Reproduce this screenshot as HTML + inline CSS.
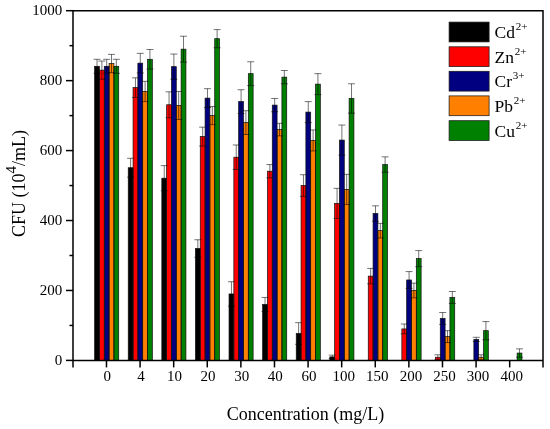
<!DOCTYPE html>
<html><head><meta charset="utf-8"><style>
html,body{margin:0;padding:0;background:#fff;}
body{width:550px;height:429px;overflow:hidden;}
svg{display:block;will-change:transform;}
text{font-family:"Liberation Serif",serif;fill:#000;}
</style></head><body>
<svg width="550" height="429" viewBox="0 0 550 429">
<rect width="550" height="429" fill="#fff"/>
<g><rect x="94.63" y="66.30" width="4.82" height="294.10" fill="#000000"/><rect x="99.45" y="70.15" width="4.82" height="290.25" fill="#ff0000"/><rect x="104.27" y="66.30" width="4.82" height="294.10" fill="#000080"/><rect x="109.09" y="63.50" width="4.82" height="296.90" fill="#ff8000"/><rect x="113.91" y="66.30" width="4.82" height="294.10" fill="#008000"/><rect x="128.23" y="167.72" width="4.82" height="192.68" fill="#000000"/><rect x="133.05" y="87.63" width="4.82" height="272.77" fill="#ff0000"/><rect x="137.87" y="63.15" width="4.82" height="297.25" fill="#000080"/><rect x="142.69" y="91.48" width="4.82" height="268.92" fill="#ff8000"/><rect x="147.51" y="59.31" width="4.82" height="301.09" fill="#008000"/><rect x="161.83" y="178.21" width="4.82" height="182.19" fill="#000000"/><rect x="166.65" y="104.77" width="4.82" height="255.63" fill="#ff0000"/><rect x="171.47" y="66.65" width="4.82" height="293.75" fill="#000080"/><rect x="176.29" y="105.47" width="4.82" height="254.93" fill="#ff8000"/><rect x="181.11" y="49.17" width="4.82" height="311.23" fill="#008000"/><rect x="195.43" y="248.50" width="4.82" height="111.90" fill="#000000"/><rect x="200.25" y="136.59" width="4.82" height="223.81" fill="#ff0000"/><rect x="205.07" y="98.12" width="4.82" height="262.28" fill="#000080"/><rect x="209.89" y="115.61" width="4.82" height="244.79" fill="#ff8000"/><rect x="214.71" y="38.68" width="4.82" height="321.72" fill="#008000"/><rect x="229.03" y="293.96" width="4.82" height="66.44" fill="#000000"/><rect x="233.85" y="157.22" width="4.82" height="203.18" fill="#ff0000"/><rect x="238.67" y="101.62" width="4.82" height="258.78" fill="#000080"/><rect x="243.49" y="122.60" width="4.82" height="237.80" fill="#ff8000"/><rect x="248.31" y="73.65" width="4.82" height="286.75" fill="#008000"/><rect x="262.63" y="304.45" width="4.82" height="55.95" fill="#000000"/><rect x="267.45" y="171.21" width="4.82" height="189.19" fill="#ff0000"/><rect x="272.27" y="105.12" width="4.82" height="255.28" fill="#000080"/><rect x="277.09" y="129.60" width="4.82" height="230.80" fill="#ff8000"/><rect x="281.91" y="77.14" width="4.82" height="283.26" fill="#008000"/><rect x="296.23" y="333.47" width="4.82" height="26.93" fill="#000000"/><rect x="301.05" y="185.55" width="4.82" height="174.85" fill="#ff0000"/><rect x="305.87" y="112.11" width="4.82" height="248.29" fill="#000080"/><rect x="310.69" y="140.44" width="4.82" height="219.96" fill="#ff8000"/><rect x="315.51" y="84.14" width="4.82" height="276.26" fill="#008000"/><rect x="329.83" y="356.90" width="4.82" height="3.50" fill="#000000"/><rect x="334.65" y="203.38" width="4.82" height="157.02" fill="#ff0000"/><rect x="339.47" y="140.09" width="4.82" height="220.31" fill="#000080"/><rect x="344.29" y="189.40" width="4.82" height="171.00" fill="#ff8000"/><rect x="349.11" y="98.47" width="4.82" height="261.93" fill="#008000"/><rect x="368.25" y="276.12" width="4.82" height="84.28" fill="#ff0000"/><rect x="373.07" y="213.53" width="4.82" height="146.87" fill="#000080"/><rect x="377.89" y="230.66" width="4.82" height="129.74" fill="#ff8000"/><rect x="382.71" y="164.57" width="4.82" height="195.83" fill="#008000"/><rect x="401.85" y="328.93" width="4.82" height="31.47" fill="#ff0000"/><rect x="406.67" y="279.97" width="4.82" height="80.43" fill="#000080"/><rect x="411.49" y="290.46" width="4.82" height="69.94" fill="#ff8000"/><rect x="416.31" y="258.64" width="4.82" height="101.76" fill="#008000"/><rect x="435.45" y="357.25" width="4.82" height="3.15" fill="#ff0000"/><rect x="440.27" y="318.44" width="4.82" height="41.96" fill="#000080"/><rect x="445.09" y="336.62" width="4.82" height="23.78" fill="#ff8000"/><rect x="449.91" y="297.45" width="4.82" height="62.95" fill="#008000"/><rect x="473.87" y="339.42" width="4.82" height="20.98" fill="#000080"/><rect x="478.69" y="357.25" width="4.82" height="3.15" fill="#ff8000"/><rect x="483.51" y="330.68" width="4.82" height="29.72" fill="#008000"/><rect x="517.11" y="353.06" width="4.82" height="7.34" fill="#008000"/></g>
<g fill="none" stroke="#111" stroke-width="0.7"><rect x="94.63" y="66.30" width="4.82" height="294.10"/><rect x="99.45" y="70.15" width="4.82" height="290.25"/><rect x="104.27" y="66.30" width="4.82" height="294.10"/><rect x="109.09" y="63.50" width="4.82" height="296.90"/><rect x="113.91" y="66.30" width="4.82" height="294.10"/><rect x="128.23" y="167.72" width="4.82" height="192.68"/><rect x="133.05" y="87.63" width="4.82" height="272.77"/><rect x="137.87" y="63.15" width="4.82" height="297.25"/><rect x="142.69" y="91.48" width="4.82" height="268.92"/><rect x="147.51" y="59.31" width="4.82" height="301.09"/><rect x="161.83" y="178.21" width="4.82" height="182.19"/><rect x="166.65" y="104.77" width="4.82" height="255.63"/><rect x="171.47" y="66.65" width="4.82" height="293.75"/><rect x="176.29" y="105.47" width="4.82" height="254.93"/><rect x="181.11" y="49.17" width="4.82" height="311.23"/><rect x="195.43" y="248.50" width="4.82" height="111.90"/><rect x="200.25" y="136.59" width="4.82" height="223.81"/><rect x="205.07" y="98.12" width="4.82" height="262.28"/><rect x="209.89" y="115.61" width="4.82" height="244.79"/><rect x="214.71" y="38.68" width="4.82" height="321.72"/><rect x="229.03" y="293.96" width="4.82" height="66.44"/><rect x="233.85" y="157.22" width="4.82" height="203.18"/><rect x="238.67" y="101.62" width="4.82" height="258.78"/><rect x="243.49" y="122.60" width="4.82" height="237.80"/><rect x="248.31" y="73.65" width="4.82" height="286.75"/><rect x="262.63" y="304.45" width="4.82" height="55.95"/><rect x="267.45" y="171.21" width="4.82" height="189.19"/><rect x="272.27" y="105.12" width="4.82" height="255.28"/><rect x="277.09" y="129.60" width="4.82" height="230.80"/><rect x="281.91" y="77.14" width="4.82" height="283.26"/><rect x="296.23" y="333.47" width="4.82" height="26.93"/><rect x="301.05" y="185.55" width="4.82" height="174.85"/><rect x="305.87" y="112.11" width="4.82" height="248.29"/><rect x="310.69" y="140.44" width="4.82" height="219.96"/><rect x="315.51" y="84.14" width="4.82" height="276.26"/><rect x="329.83" y="356.90" width="4.82" height="3.50"/><rect x="334.65" y="203.38" width="4.82" height="157.02"/><rect x="339.47" y="140.09" width="4.82" height="220.31"/><rect x="344.29" y="189.40" width="4.82" height="171.00"/><rect x="349.11" y="98.47" width="4.82" height="261.93"/><rect x="368.25" y="276.12" width="4.82" height="84.28"/><rect x="373.07" y="213.53" width="4.82" height="146.87"/><rect x="377.89" y="230.66" width="4.82" height="129.74"/><rect x="382.71" y="164.57" width="4.82" height="195.83"/><rect x="401.85" y="328.93" width="4.82" height="31.47"/><rect x="406.67" y="279.97" width="4.82" height="80.43"/><rect x="411.49" y="290.46" width="4.82" height="69.94"/><rect x="416.31" y="258.64" width="4.82" height="101.76"/><rect x="435.45" y="357.25" width="4.82" height="3.15"/><rect x="440.27" y="318.44" width="4.82" height="41.96"/><rect x="445.09" y="336.62" width="4.82" height="23.78"/><rect x="449.91" y="297.45" width="4.82" height="62.95"/><rect x="473.87" y="339.42" width="4.82" height="20.98"/><rect x="478.69" y="357.25" width="4.82" height="3.15"/><rect x="483.51" y="330.68" width="4.82" height="29.72"/><rect x="517.11" y="353.06" width="4.82" height="7.34"/></g>
<g fill="none" stroke="#000" stroke-width="0.55"><path d="M97.04 59.31V73.30M93.54 59.31H100.54M93.54 73.30H100.54"/><path d="M101.86 61.06V79.24M98.36 61.06H105.36M98.36 79.24H105.36"/><path d="M106.68 59.31V73.30M103.18 59.31H110.18M103.18 73.30H110.18"/><path d="M111.50 54.41V72.60M108.00 54.41H115.00M108.00 72.60H115.00"/><path d="M116.32 59.31V73.30M112.82 59.31H119.82M112.82 73.30H119.82"/><path d="M130.64 158.27V177.16M127.14 158.27H134.14M127.14 177.16H134.14"/><path d="M135.46 77.84V97.43M131.96 77.84H138.96M131.96 97.43H138.96"/><path d="M140.28 53.36V72.95M136.78 53.36H143.78M136.78 72.95H143.78"/><path d="M145.10 81.34V101.62M141.60 81.34H148.60M141.60 101.62H148.60"/><path d="M149.92 49.52V69.10M146.42 49.52H153.42M146.42 69.10H153.42"/><path d="M164.24 165.62V190.80M160.74 165.62H167.74M160.74 190.80H167.74"/><path d="M169.06 91.83V117.71M165.56 91.83H172.56M165.56 117.71H172.56"/><path d="M173.88 54.06V79.24M170.38 54.06H177.38M170.38 79.24H177.38"/><path d="M178.70 91.48V119.46M175.20 91.48H182.20M175.20 119.46H182.20"/><path d="M183.52 36.23V62.11M180.02 36.23H187.02M180.02 62.11H187.02"/><path d="M197.84 239.75V257.24M194.34 239.75H201.34M194.34 257.24H201.34"/><path d="M202.66 127.15V146.03M199.16 127.15H206.16M199.16 146.03H206.16"/><path d="M207.48 88.68V107.57M203.98 88.68H210.98M203.98 107.57H210.98"/><path d="M212.30 106.52V124.70M208.80 106.52H215.80M208.80 124.70H215.80"/><path d="M217.12 29.58V47.77M213.62 29.58H220.62M213.62 47.77H220.62"/><path d="M231.44 281.72V306.20M227.94 281.72H234.94M227.94 306.20H234.94"/><path d="M236.26 144.98V169.46M232.76 144.98H239.76M232.76 169.46H239.76"/><path d="M241.08 89.73V113.51M237.58 89.73H244.58M237.58 113.51H244.58"/><path d="M245.90 110.71V134.49M242.40 110.71H249.40M242.40 134.49H249.40"/><path d="M250.72 61.76V85.54M247.22 61.76H254.22M247.22 85.54H254.22"/><path d="M265.04 297.45V311.44M261.54 297.45H268.54M261.54 311.44H268.54"/><path d="M269.86 164.57V177.86M266.36 164.57H273.36M266.36 177.86H273.36"/><path d="M274.68 98.47V111.76M271.18 98.47H278.18M271.18 111.76H278.18"/><path d="M279.50 123.30V135.89M276.00 123.30H283.00M276.00 135.89H283.00"/><path d="M284.32 70.50V83.79M280.82 70.50H287.82M280.82 83.79H287.82"/><path d="M298.64 322.63V344.31M295.14 322.63H302.14M295.14 344.31H302.14"/><path d="M303.46 174.71V196.39M299.96 174.71H306.96M299.96 196.39H306.96"/><path d="M308.28 101.62V122.60M304.78 101.62H311.78M304.78 122.60H311.78"/><path d="M313.10 129.95V150.93M309.60 129.95H316.60M309.60 150.93H316.60"/><path d="M317.92 73.65V94.63M314.42 73.65H321.42M314.42 94.63H321.42"/><path d="M332.24 355.15V358.65M328.74 355.15H335.74M328.74 358.65H335.74"/><path d="M337.06 188.35V218.42M333.56 188.35H340.56M333.56 218.42H340.56"/><path d="M341.88 125.05V155.13M338.38 125.05H345.38M338.38 155.13H345.38"/><path d="M346.70 174.36V204.43M343.20 174.36H350.20M343.20 204.43H350.20"/><path d="M351.52 83.79V113.16M348.02 83.79H355.02M348.02 113.16H355.02"/><path d="M370.66 268.43V283.82M367.16 268.43H374.16M367.16 283.82H374.16"/><path d="M375.48 205.83V221.22M371.98 205.83H378.98M371.98 221.22H378.98"/><path d="M380.30 223.32V238.00M376.80 223.32H383.80M376.80 238.00H383.80"/><path d="M385.12 156.87V172.26M381.62 156.87H388.62M381.62 172.26H388.62"/><path d="M404.26 324.03V333.82M400.76 324.03H407.76M400.76 333.82H407.76"/><path d="M409.08 271.58V288.36M405.58 271.58H412.58M405.58 288.36H412.58"/><path d="M413.90 283.12V297.80M410.40 283.12H417.40M410.40 297.80H417.40"/><path d="M418.72 250.59V266.68M415.22 250.59H422.22M415.22 266.68H422.22"/><path d="M437.86 354.80V359.70M434.36 354.80H441.36M434.36 359.70H441.36"/><path d="M442.68 312.49V324.38M439.18 312.49H446.18M439.18 324.38H446.18"/><path d="M447.50 330.68V342.57M444.00 330.68H451.00M444.00 342.57H451.00"/><path d="M452.32 291.51V303.40M448.82 291.51H455.82M448.82 303.40H455.82"/><path d="M476.28 337.32V341.52M472.78 337.32H479.78M472.78 341.52H479.78"/><path d="M481.10 354.80V359.70M477.60 354.80H484.60M477.60 359.70H484.60"/><path d="M485.92 321.58V339.77M482.42 321.58H489.42M482.42 339.77H489.42"/><path d="M519.52 348.86V357.25M516.02 348.86H523.02M516.02 357.25H523.02"/></g>
<g fill="none" stroke="#000" stroke-width="1.5"><path d="M73.0 10.7H543.0V367.4M73.0 10.7V367.4M73.0 360.4H543.0"/><path d="M66.0 360.40H73.0"/><path d="M69.5 325.43H73.0"/><path d="M66.0 290.46H73.0"/><path d="M69.5 255.49H73.0"/><path d="M66.0 220.52H73.0"/><path d="M69.5 185.55H73.0"/><path d="M66.0 150.58H73.0"/><path d="M69.5 115.61H73.0"/><path d="M66.0 80.64H73.0"/><path d="M69.5 45.67H73.0"/><path d="M66.0 10.70H73.0"/><path d="M106.48 360.4V367.4"/><path d="M140.08 360.4V367.4"/><path d="M173.68 360.4V367.4"/><path d="M207.28 360.4V367.4"/><path d="M240.88 360.4V367.4"/><path d="M274.48 360.4V367.4"/><path d="M308.08 360.4V367.4"/><path d="M341.68 360.4V367.4"/><path d="M375.28 360.4V367.4"/><path d="M408.88 360.4V367.4"/><path d="M442.48 360.4V367.4"/><path d="M476.08 360.4V367.4"/><path d="M509.68 360.4V367.4"/></g>
<g font-size="15"><text x="62.2" y="364.70" text-anchor="end">0</text><text x="62.2" y="294.76" text-anchor="end">200</text><text x="62.2" y="224.82" text-anchor="end">400</text><text x="62.2" y="154.88" text-anchor="end">600</text><text x="62.2" y="84.94" text-anchor="end">800</text><text x="62.2" y="15.00" text-anchor="end">1000</text></g>
<g font-size="15"><text x="107.28" y="380.7" text-anchor="middle">0</text><text x="140.88" y="380.7" text-anchor="middle">4</text><text x="174.48" y="380.7" text-anchor="middle">10</text><text x="208.08" y="380.7" text-anchor="middle">20</text><text x="241.68" y="380.7" text-anchor="middle">30</text><text x="275.28" y="380.7" text-anchor="middle">40</text><text x="308.88" y="380.7" text-anchor="middle">60</text><text x="343.68" y="380.7" text-anchor="middle">100</text><text x="377.28" y="380.7" text-anchor="middle">150</text><text x="410.88" y="380.7" text-anchor="middle">200</text><text x="444.48" y="380.7" text-anchor="middle">250</text><text x="478.08" y="380.7" text-anchor="middle">300</text><text x="511.68" y="380.7" text-anchor="middle">400</text></g>
<g><rect x="449.1" y="22.10" width="40" height="19.8" fill="#000000" stroke="#1a1a1a" stroke-width="0.75"/><text x="494.5" y="38.10" font-size="17.5">Cd<tspan font-size="11" dx="0.8" dy="-8.2">2+</tspan></text><rect x="449.1" y="46.80" width="40" height="19.8" fill="#ff0000" stroke="#1a1a1a" stroke-width="0.75"/><text x="494.5" y="62.80" font-size="17.5">Zn<tspan font-size="11" dx="0.8" dy="-8.2">2+</tspan></text><rect x="449.1" y="71.30" width="40" height="19.8" fill="#000080" stroke="#1a1a1a" stroke-width="0.75"/><text x="494.5" y="87.30" font-size="17.5">Cr<tspan font-size="11" dx="0.8" dy="-8.2">3+</tspan></text><rect x="449.1" y="95.90" width="40" height="19.8" fill="#ff8000" stroke="#1a1a1a" stroke-width="0.75"/><text x="494.5" y="111.90" font-size="17.5">Pb<tspan font-size="11" dx="0.8" dy="-8.2">2+</tspan></text><rect x="449.1" y="120.70" width="40" height="19.8" fill="#008000" stroke="#1a1a1a" stroke-width="0.75"/><text x="494.5" y="136.70" font-size="17.5">Cu<tspan font-size="11" dx="0.8" dy="-8.2">2+</tspan></text></g>
<text x="305.5" y="419.9" font-size="18" text-anchor="middle">Concentration (mg/L)</text>
<text transform="translate(25.2 183.5) rotate(-90)" font-size="18" text-anchor="middle">CFU (10<tspan font-size="15" dy="-9.4">4</tspan><tspan dy="9.4">/mL)</tspan></text>
</svg>
</body></html>
